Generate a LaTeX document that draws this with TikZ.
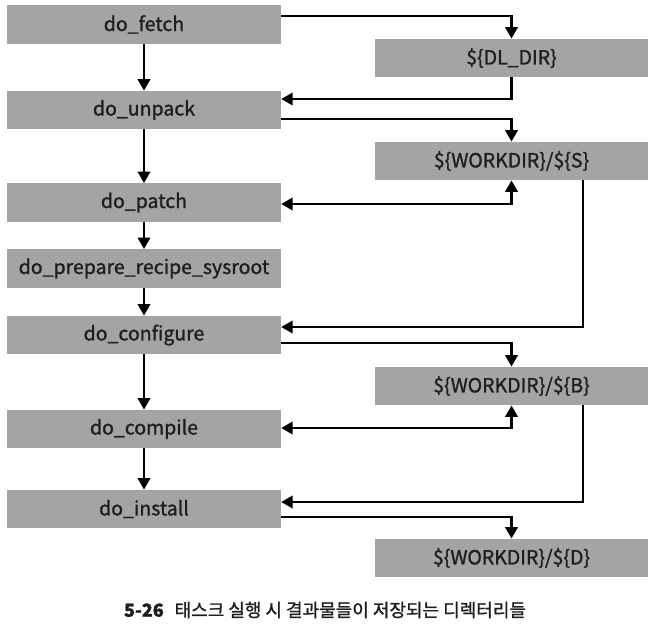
\documentclass[tikz,border=0pt]{standalone}
\usepackage{fontspec}
\setmainfont{Noto Sans CJK KR}[RawFeature={embolden=1.2}]
\usetikzlibrary{arrows.meta}
\definecolor{boxgray}{HTML}{A4A4A4}
\definecolor{txt}{HTML}{1E1E1E}
\tikzset{
  task/.style={fill=boxgray, minimum width=274bp, minimum height=38.5bp, inner sep=0pt,
    text=txt, font=\fontsize{19.5bp}{22bp}\selectfont, anchor=center},
  dir/.style={task, minimum width=273bp},
  conn/.style={line width=2.3bp, -{Triangle[width=12.5bp,length=11.5bp]}},
  conn2/.style={line width=2.3bp, {Triangle[width=12.5bp,length=11.5bp]}-{Triangle[width=12.5bp,length=11.5bp]}},
}
\begin{document}
\begin{tikzpicture}[x=1bp,y=-1bp]
\useasboundingbox (0,0) rectangle (654,625);
\fill[white] (0,0) rectangle (654,625);
% left tasks
\node[task] (fetch) at (144,24.5) {do\_fetch};
\node[task] (unpack) at (144,110) {do\_unpack};
\node[task] (patch) at (144,202.5) {do\_patch};
\node[task] (sysroot) at (144,268.5) {do\_prepare\_recipe\_sysroot};
\node[task] (configure) at (144,335) {do\_configure};
\node[task] (compile) at (144,429) {do\_compile};
\node[task] (install) at (144,509) {do\_install};
% right dirs
\node[dir] (DL) at (511.5,58) {\$\{DL\_DIR\}};
\node[dir] (S) at (511.5,161) {\$\{WORKDIR\}/\$\{S\}};
\node[dir] (B) at (511.5,386) {\$\{WORKDIR\}/\$\{B\}};
\node[dir] (D) at (511.5,558) {\$\{WORKDIR\}/\$\{D\}};
% vertical chain
\draw[conn] (fetch) -- (unpack);
\draw[conn] (unpack) -- (patch);
\draw[conn] (patch) -- (sysroot);
\draw[conn] (sysroot) -- (configure);
\draw[conn] (configure) -- (compile);
\draw[conn] (compile) -- (install);
% side connectors
\draw[conn] ([yshift=8.5bp]fetch.east) -| (DL.north);
\draw[conn] (DL.south) |- ([yshift=11bp]unpack.east);
\draw[conn] ([yshift=-9bp]unpack.east) -| (S.north);
\draw[conn2] ([yshift=-1.5bp]patch.east) -| (S.south);
\draw[conn] ([xshift=-65bp]S.south east) |- ([yshift=8bp]configure.east);
\draw[conn] ([yshift=-8bp]configure.east) -| (B.north);
\draw[conn2] ([yshift=1bp]compile.east) -| (B.south);
\draw[conn] ([xshift=-65bp]B.south east) |- ([yshift=7bp]install.east);
\draw[conn] ([yshift=-8bp]install.east) -| (D.north);
% caption
\node[text=txt, font=\fontsize{18bp}{21bp}\selectfont] (cap) at (325,610)
  {\textbf{5-26}\hspace{0.6em}태스크 실행 시 결과물들이 저장되는 디렉터리들};
\end{tikzpicture}
\end{document}
